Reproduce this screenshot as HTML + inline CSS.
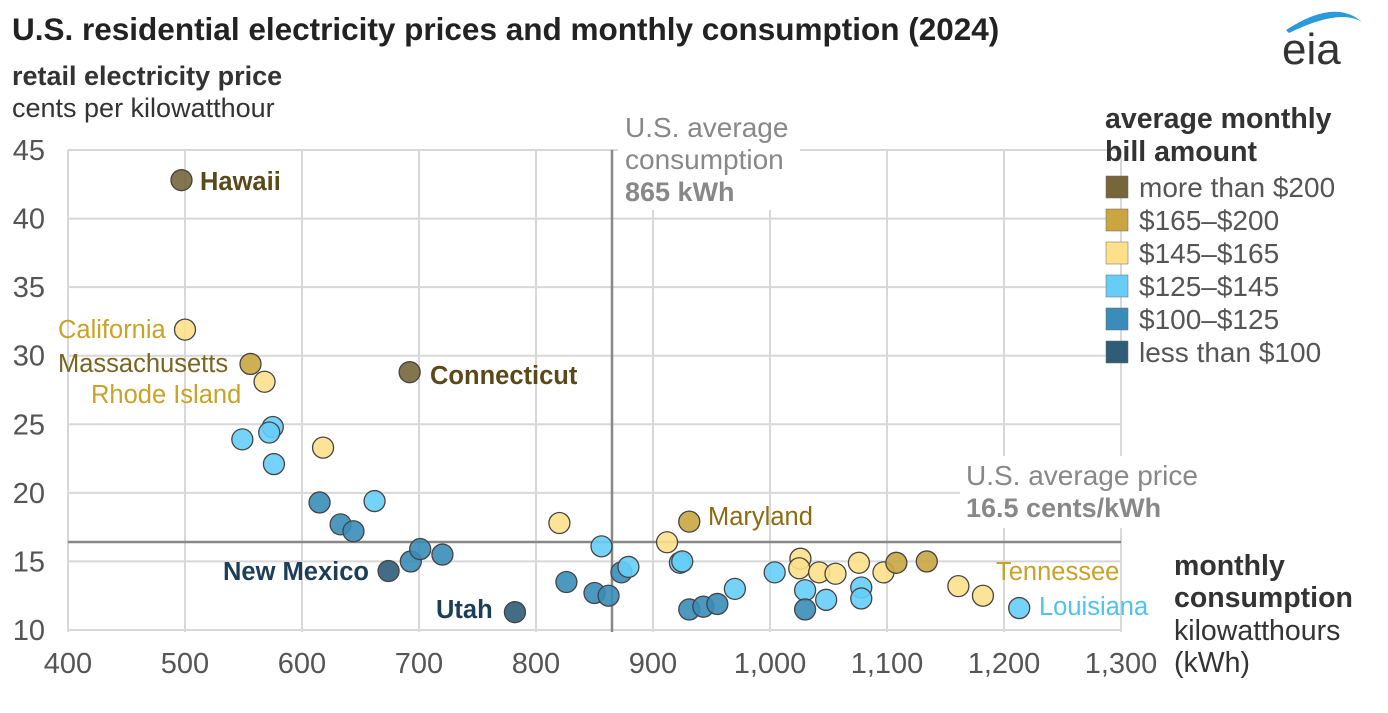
<!DOCTYPE html>
<html><head><meta charset="utf-8"><style>
body{margin:0;background:#fff;width:1388px;height:708px;overflow:hidden;font-family:"Liberation Sans",Arial,sans-serif}
svg text{font-family:"Liberation Sans",Arial,sans-serif}
</style></head><body>
<svg id="chart" width="1388" height="708">
<text x="12" y="40" font-size="31.5" font-weight="bold" fill="#222">U.S. residential electricity prices and monthly consumption (2024)</text>
<g>
<path d="M1286 30 Q1335 -2 1362 22 Q1340 8 1289 33 Z" fill="#2a9ad8"/>
<text x="1282" y="64" font-size="44" fill="#333">eia</text>
</g>
<text x="12" y="85" font-size="27" font-weight="bold" fill="#333">retail electricity price</text>
<text x="12" y="117" font-size="27" fill="#333">cents per kilowatthour</text>
<g id="grid"></g><g id="ticks"></g>
<line x1="612" y1="150" x2="612" y2="632" stroke="#888" stroke-width="2.5"/>
<line x1="68" y1="542" x2="1121" y2="542" stroke="#888" stroke-width="2.5"/>
<rect x="618" y="108" width="182" height="102" fill="#fff"/>
<text x="625" y="137" font-size="28" fill="#888">U.S. average</text>
<text x="625" y="169" font-size="28" fill="#888">consumption</text>
<text x="625" y="201" font-size="27" font-weight="bold" fill="#888">865 kWh</text>
<rect x="960" y="456" width="245" height="72" fill="#fff"/>
<text x="966" y="485" font-size="28" fill="#888">U.S. average price</text>
<text x="966" y="517" font-size="27" font-weight="bold" fill="#888">16.5 cents/kWh</text>
<g id="points"></g>
<g font-size="25.5">
<text x="200" y="190" font-weight="bold" fill="#5a4a1a">Hawaii</text>
<text x="58" y="338" fill="#c9a227">California</text>
<text x="58" y="372" fill="#7a6520">Massachusetts</text>
<text x="91" y="403" fill="#c9a227">Rhode Island</text>
<text x="430" y="384" font-weight="bold" fill="#5a4a1a">Connecticut</text>
<text x="708" y="525" fill="#8a6d10">Maryland</text>
<text x="996" y="580" fill="#c9a227">Tennessee</text>
<text x="1039" y="615" fill="#4cc3f0">Louisiana</text>
<text x="223" y="580" font-weight="bold" fill="#1c3e56">New Mexico</text>
<text x="436" y="618" font-weight="bold" fill="#1c3e56">Utah</text>
</g>
<g font-size="28.5" fill="#333">
<text x="1174" y="575" font-weight="bold">monthly</text>
<text x="1174" y="607" font-weight="bold">consumption</text>
<text x="1174" y="640">kilowatthours</text>
<text x="1174" y="672">(kWh)</text>
</g>
<g>
<text x="1105" y="128" font-size="28.5" font-weight="bold" fill="#333">average monthly</text>
<text x="1105" y="161" font-size="28.5" font-weight="bold" fill="#333">bill amount</text>
<g id="legend-items"></g>
</g>
</svg>
<script>
const xTicks=[400,500,600,700,800,900,1000,1100,1200,1300];
const xTickLabels=["400","500","600","700","800","900","1,000","1,100","1,200","1,300"];
const yTicks=[10,15,20,25,30,35,40,45];
const categories=["more than $200","$165–$200","$145–$165","$125–$145","$100–$125","less than $100"];
const catColors=["#76663a","#c9a641","#fde08a","#66cdf7","#3a8db8","#2f5d78"];
const consumption=[497,500,556,568,692,549,575,572,576,618,615,662,633,644,674,693,701,720,782,820,856,826,850,862,873,879,912,931,923,925,931,943,955,970,1004,1026,1025,1042,1056,1030,1048,1030,1076,1078,1078,1097,1108,1134,1161,1182,1213];
const price=[42.8,31.9,29.4,28.1,28.8,23.9,24.8,24.4,22.1,23.3,19.3,19.4,17.7,17.2,14.3,15.0,15.9,15.5,11.3,17.8,16.1,13.5,12.7,12.5,14.2,14.6,16.4,17.9,14.9,15.0,11.5,11.7,11.9,13.0,14.2,15.2,14.5,14.2,14.1,12.9,12.2,11.5,14.9,13.1,12.3,14.2,14.9,15.0,13.2,12.5,11.6];
const billCat=[0,2,1,2,0,3,3,3,3,2,4,3,4,4,5,4,4,4,5,2,3,4,4,4,4,3,2,1,3,3,4,4,4,3,3,2,2,2,2,3,3,4,2,3,3,2,1,1,2,2,3];
const NS="http://www.w3.org/2000/svg";
const X=v=>68+(v-400)*1053/900;
const Y=v=>630-(v-10)*480/35;
function mk(t,a,p){const e=document.createElementNS(NS,t);for(const k in a)e.setAttribute(k,a[k]);p.appendChild(e);return e;}
const grid=document.getElementById('grid'),ticks=document.getElementById('ticks');
xTicks.forEach((v,i)=>{
 const l=mk('line',{x1:X(v),x2:X(v),y1:150,y2:632,stroke:'#d8d8d8','stroke-width':2},grid);
 
 
 const t=mk('text',{x:X(v),y:673,'text-anchor':'middle','font-size':29,fill:'#555'},ticks);
 t.textContent=xTickLabels[i];
 
 
});
yTicks.forEach(v=>{
 const l=mk('line',{x1:68,x2:1121,y1:Y(v),y2:Y(v),stroke:'#d8d8d8','stroke-width':2},grid);
 
 
 const t=mk('text',{x:45,y:Y(v)+10,'text-anchor':'end','font-size':29,fill:'#555'},ticks);
 t.textContent=v;
 
 
});
const pts=document.getElementById('points');
consumption.forEach((c,i)=>{
 const e=mk('circle',{cx:X(c),cy:Y(price[i]),r:10.5,fill:catColors[billCat[i]],stroke:'#444','stroke-width':1.3,'fill-opacity':0.9},pts);
 
 
});
const lg=document.getElementById('legend-items');
categories.forEach((c,i)=>{
 const y=176+i*33;
 const r=mk('rect',{x:1106,y:y,width:22,height:22,fill:catColors[i],stroke:'#666','stroke-width':0.5},lg);
 
 
 const t=mk('text',{x:1139,y:y+21,'font-size':28,fill:'#555'},lg);
 t.textContent=c;
 
 
});
</script>
</body></html>
